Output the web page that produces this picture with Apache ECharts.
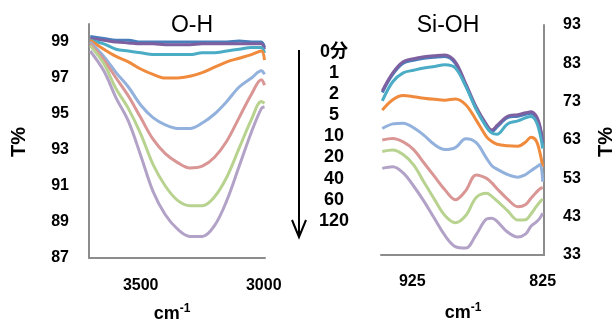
<!DOCTYPE html>
<html><head><meta charset="utf-8">
<script src="https://cdn.jsdelivr.net/npm/echarts@6/dist/echarts.min.js"></script>
<style>html,body{margin:0;padding:0;background:#fff}#c{width:616px;height:326px}</style>
</head><body><div id="c"></div>
<script>
// ---------- data ----------
const timeLabels = ['0分', '1', '2', '5', '10', '20', '40', '60', '120'];
const ohTitle = 'O-H';
const sioTitle = 'Si-OH';
const ohTicksX = [3500, 3000];
const ohTicksY = [87, 89, 91, 93, 95, 97, 99];
const sioTicksX = [925, 825];
const sioTicksY = [33, 43, 53, 63, 73, 83, 93];

// O-H panel (wavenumber, cm-1)
const ohWave = [3705, 3650, 3600, 3550, 3500, 3450, 3400, 3350, 3300, 3250, 3200, 3150, 3100, 3050, 3010, 2997];
const ohBlue   = [99.3, 99.2, 99.1, 99.1, 99.0, 99.0, 99.0, 99.0, 99.0, 99.0, 99.0, 99.0, 99.05, 99.0, 99.0, 98.7];
const ohPurple = [99.2, 99.1, 99.0, 98.95, 98.9, 98.9, 98.85, 98.85, 98.85, 98.9, 98.9, 98.9, 98.9, 98.9, 98.9, 98.6];
const ohAqua   = [99.1, 98.9, 98.6, 98.5, 98.4, 98.3, 98.3, 98.3, 98.3, 98.4, 98.4, 98.5, 98.6, 98.7, 98.7, 98.4];
const ohOrange = [99.1, 98.6, 98.2, 97.9, 97.5, 97.2, 97.0, 97.0, 97.1, 97.3, 97.6, 97.9, 98.1, 98.3, 98.5, 98.0];
const ohLBlue  = [99.0, 98.2, 97.3, 96.5, 95.5, 94.8, 94.4, 94.2, 94.2, 94.5, 95.0, 95.7, 96.5, 97.0, 97.4, 97.2];
const ohLRed   = [98.9, 98.0, 97.0, 96.0, 94.8, 93.6, 92.8, 92.3, 92.0, 92.1, 92.6, 93.5, 94.8, 96.1, 96.9, 96.6];
const ohLGreen = [98.8, 97.8, 96.4, 95.3, 93.9, 92.2, 91.0, 90.2, 89.9, 89.9, 90.4, 91.5, 93.1, 94.7, 95.7, 95.6];
const ohLPurp  = [98.5, 97.4, 95.9, 94.6, 92.7, 90.7, 89.4, 88.6, 88.2, 88.2, 88.8, 90.2, 92.1, 94.0, 95.3, 95.4];

// Si-OH panel
const sioWave = [948, 940, 932, 924, 916, 908, 900, 892, 884, 876, 868, 864, 860, 852, 844, 838, 834, 830, 827, 825];
const sioBlue   = [75.4, 80.1, 83.0, 83.8, 84.3, 84.6, 84.8, 83.0, 77.3, 71.2, 66.6, 65.2, 66.4, 68.8, 69.2, 69.7, 70.0, 68.9, 66.1, 62.1];
const sioPurple = [75.8, 80.5, 83.4, 84.2, 84.7, 85.0, 85.2, 83.4, 77.7, 71.6, 67.0, 65.6, 66.8, 69.2, 69.6, 70.1, 70.4, 69.3, 66.5, 62.5];
const sioAqua   = [73.2, 78.2, 80.5, 81.2, 81.8, 82.2, 82.6, 81.8, 77.0, 71.0, 66.3, 64.8, 64.5, 67.2, 68.0, 68.8, 69.1, 67.8, 64.5, 60.8];
const sioOrange = [70.8, 73.5, 74.6, 74.3, 73.9, 73.6, 73.4, 73.7, 72.2, 68.2, 63.8, 62.6, 61.9, 61.5, 61.4, 62.5, 63.7, 62.8, 59.5, 56.0];
const sioLBlue  = [66.0, 67.2, 67.4, 66.2, 64.2, 61.8, 60.5, 61.0, 63.3, 62.3, 58.2, 56.3, 55.4, 54.0, 53.3, 54.0, 55.0, 55.9, 56.6, 52.1];
const sioLRed   = [63.0, 63.4, 62.5, 60.5, 57.0, 53.5, 50.0, 47.4, 49.8, 53.9, 53.0, 51.8, 50.3, 47.6, 45.6, 46.2, 47.8, 49.3, 50.3, 50.6];
const sioLGreen = [60.0, 60.4, 59.2, 56.5, 52.0, 47.5, 43.3, 41.4, 43.3, 48.0, 49.1, 48.3, 47.1, 44.6, 42.1, 42.2, 43.7, 45.6, 46.9, 47.6];
const sioLPurp  = [55.6, 56.0, 54.4, 51.0, 47.0, 42.5, 38.1, 35.2, 34.8, 38.3, 42.4, 42.6, 41.8, 39.0, 37.7, 38.5, 40.5, 41.6, 42.7, 43.9];

// ---------- styling ----------
const colors = ['#4A7EBB', '#7E60A0', '#4BACC6', '#F08A3C', '#92B1DC', '#D99694', '#B8D38F', '#B3A2C7'];
const ohSets = [ohBlue, ohPurple, ohAqua, ohOrange, ohLBlue, ohLRed, ohLGreen, ohLPurp];
const sioSets = [sioBlue, sioPurple, sioAqua, sioOrange, sioLBlue, sioLRed, sioLGreen, sioLPurp];
const axisGray = '#8C8C8C';
const font = "'Liberation Sans', Arial, sans-serif";
const lblStyle = { color: '#000', fontSize: 16, fontWeight: 'bold', fontFamily: font, formatter: v => String(v) };

function mkSeries(wave, sets, idx) {
  return sets.map((vals, i) => ({
    type: 'line', xAxisIndex: idx, yAxisIndex: idx, showSymbol: false, smooth: 0.35,
    lineStyle: { width: 3, color: colors[i] }, itemStyle: { color: colors[i] },
    data: wave.map((w, k) => [w, vals[k]]), z: 2 + i
  }));
}

const chart = echarts.init(document.getElementById('c'));
const legendGraphics = timeLabels.map((t, i) => ({
  type: 'text', x: 334, y: 52 + i * 21.1,
  style: { text: t, align: 'center', verticalAlign: 'middle', fill: '#000',
    font: "bold 18px 'Liberation Sans', 'Noto Sans CJK JP', sans-serif" }
}));

chart.setOption({
  animation: false,
  grid: [
    { left: 89, top: 24, width: 176, height: 234 },
    { left: 381, top: 25, width: 163, height: 230 }
  ],
  xAxis: [
    { type: 'value', gridIndex: 0, min: 2995, max: 3710, inverse: true,
      axisLine: { show: true, lineStyle: { color: axisGray, width: 2 } }, axisTick: { show: false },
      splitLine: { show: false },
      axisLabel: Object.assign({ margin: 20, customValues: ohTicksX }, lblStyle) },
    { type: 'value', gridIndex: 1, min: 824, max: 949, inverse: true,
      axisLine: { show: true, lineStyle: { color: axisGray, width: 2 } }, axisTick: { show: false },
      splitLine: { show: false },
      axisLabel: Object.assign({ margin: 19, customValues: sioTicksX }, lblStyle) }
  ],
  yAxis: [
    { type: 'value', gridIndex: 0, min: 87, max: 100,
      axisLine: { show: true, lineStyle: { color: axisGray, width: 2 } }, axisTick: { show: false },
      splitLine: { show: false },
      axisLabel: Object.assign({ margin: 20, customValues: ohTicksY }, lblStyle) },
    { type: 'value', gridIndex: 1, min: 33, max: 93, position: 'right',
      axisLine: { show: true, lineStyle: { color: axisGray, width: 2 } }, axisTick: { show: false },
      splitLine: { show: false },
      axisLabel: Object.assign({ margin: 19, customValues: sioTicksY }, lblStyle) }
  ],
  series: mkSeries(ohWave, ohSets, 0).concat(mkSeries(sioWave, sioSets, 1)),
  graphic: [
    { type: 'text', x: 192, y: 26, style: { text: ohTitle, align: 'center', verticalAlign: 'middle', fill: '#000', font: "23px 'Liberation Sans', Arial, sans-serif" } },
    { type: 'text', x: 448, y: 26, style: { text: sioTitle, align: 'center', verticalAlign: 'middle', fill: '#000', font: "23px 'Liberation Sans', Arial, sans-serif" } },
    { type: 'text', x: 19, y: 142, rotation: Math.PI / 2, style: { text: 'T%', align: 'center', verticalAlign: 'middle', fill: '#000', font: "bold 20px 'Liberation Sans', Arial, sans-serif" } },
    { type: 'text', x: 606, y: 142, rotation: Math.PI / 2, style: { text: 'T%', align: 'center', verticalAlign: 'middle', fill: '#000', font: "bold 20px 'Liberation Sans', Arial, sans-serif" } },
    { type: 'text', x: 172, y: 314, style: { text: '{a|cm}{b|-1}', align: 'center', verticalAlign: 'middle',
      rich: { a: { fontSize: 18, fontWeight: 'bold', fontFamily: font, fill: '#000' }, b: { fontSize: 12, fontWeight: 'bold', fontFamily: font, fill: '#000', padding: [0, 0, 10, 0] } } } },
    { type: 'text', x: 463, y: 313, style: { text: '{a|cm}{b|-1}', align: 'center', verticalAlign: 'middle',
      rich: { a: { fontSize: 18, fontWeight: 'bold', fontFamily: font, fill: '#000' }, b: { fontSize: 12, fontWeight: 'bold', fontFamily: font, fill: '#000', padding: [0, 0, 10, 0] } } } },
    { type: 'line', shape: { x1: 299, y1: 50, x2: 299, y2: 236 }, style: { stroke: '#000', lineWidth: 2 } },
    { type: 'polyline', shape: { points: [[292, 220], [299, 237], [306, 220]] }, style: { stroke: '#000', lineWidth: 2, fill: null } }
  ].concat(legendGraphics)
});
</script></body></html>
